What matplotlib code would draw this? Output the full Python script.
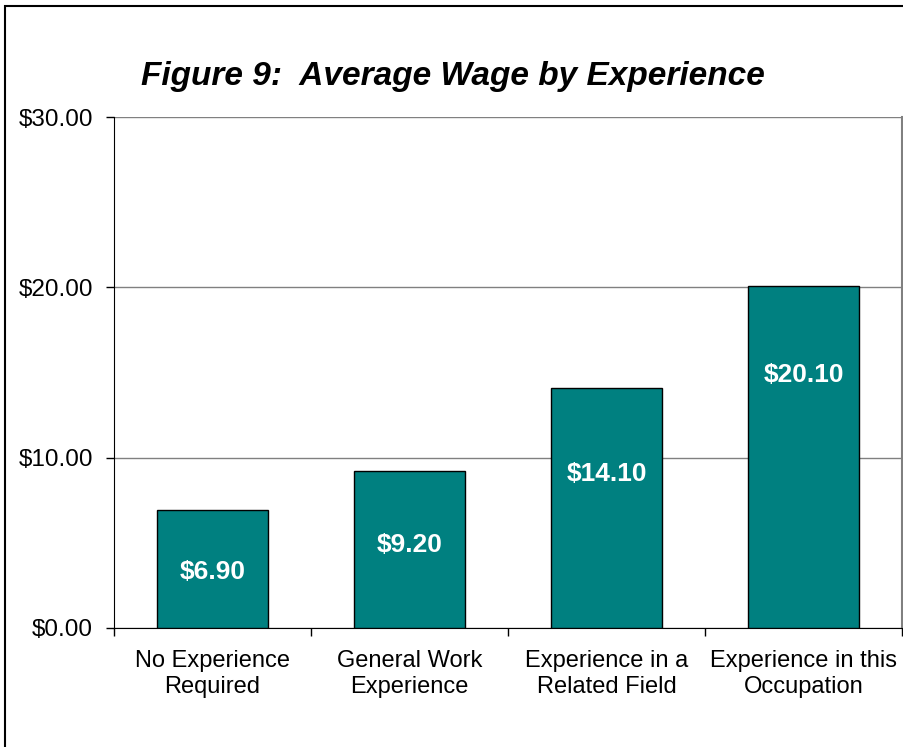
import matplotlib.pyplot as plt
from matplotlib.patches import Rectangle
import numpy as np

plt.rcParams['font.family'] = ['Liberation Sans', 'DejaVu Sans']

categories = ['No Experience\nRequired', 'General Work\nExperience',
              'Experience in a\nRelated Field', 'Experience in this\nOccupation']
wages = [6.90, 9.20, 14.10, 20.10]
label_y = [3.3, 4.87, 9.04, 14.85]  # where the value labels sit in the bars
y_ticks = [0, 10, 20, 30]

fig = plt.figure(figsize=(9.04, 7.47), dpi=100)
ax = fig.add_axes([114 / 904, 119 / 747, 788 / 904, 511 / 747])

x = np.arange(len(wages))
ax.bar(x, wages, width=0.56, color='#008080', edgecolor='black', linewidth=1, zorder=3)

for xi, v, ly in zip(x, wages, label_y):
    ax.text(xi, ly, f'${v:.2f}', ha='center', va='center', color='white',
            fontsize=19, fontweight='bold', zorder=4)

ax.set_xlim(-0.5, len(wages) - 0.5)
ax.set_ylim(0, 30)
ax.set_yticks(y_ticks)
ax.set_yticklabels([f'${t:.2f}' for t in y_ticks], fontsize=17.5)
ax.yaxis.grid(True, color='#808080', linewidth=1, zorder=0)

# category labels centred, ticks between categories
ax.set_xticks(np.arange(len(wages) + 1) - 0.5)
ax.set_xticklabels([])
ax.set_xticks(x, minor=True)
ax.set_xticklabels(categories, minor=True, fontsize=17)
ax.tick_params(axis='x', which='minor', length=0, pad=16)
ax.tick_params(axis='x', which='major', length=6, width=1, direction='out')
ax.tick_params(axis='y', length=6, width=1, direction='out', pad=9)

ax.spines['left'].set_color('black')
ax.spines['bottom'].set_color('black')
ax.spines['top'].set_visible(False)
ax.spines['right'].set_color('#808080')
ax.spines['right'].set_linewidth(1.5)

fig.text(453 / 904, 1 - 76 / 747, 'Figure 9:  Average Wage by Experience',
         ha='center', va='center', fontsize=24, fontweight='bold', fontstyle='italic')

# outer chart border (runs off right and bottom edge)
fig.patches.append(Rectangle((5 / 904, -0.05), 1.1, 1 - 6 / 747 + 0.05,
                             transform=fig.transFigure, fill=False,
                             edgecolor='black', linewidth=1.5))

fig.savefig('out.png', dpi=100)
